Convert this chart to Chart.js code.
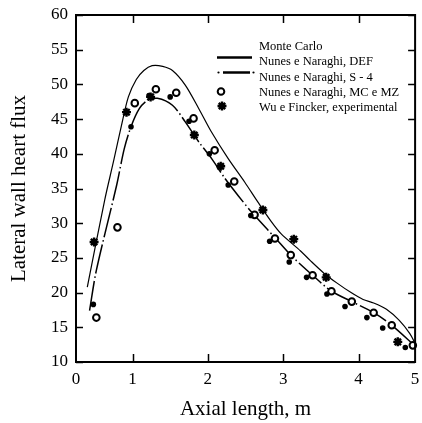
<!DOCTYPE html>
<html>
<head>
<meta charset="utf-8">
<script src="https://cdn.jsdelivr.net/npm/chart.js@4.4.0/dist/chart.umd.min.js"></script>
<style>
  html, body { margin: 0; padding: 0; background: #fff; }
  #wrap { width: 422px; height: 423px; }
</style>
</head>
<body>
<div id="wrap"><canvas id="myChart" width="422" height="423"></canvas></div>
<script>
// series (x = axial length in m, y = lateral wall heat flux)
const monteCarloX = [0.48, 0.98, 1.22, 1.50, 1.75, 2.02, 2.27, 2.57, 2.82, 3.08, 3.31, 3.58, 3.82, 4.11, 4.32, 4.62];
const monteCarloY = [18.3, 43.9, 48.4, 48.2, 44.7, 40.0, 35.5, 31.1, 27.4, 24.4, 22.2, 19.8, 18.0, 16.4, 14.9, 12.1];

const defX = [0.40, 0.63, 0.75, 0.85, 0.945, 1.05, 1.15, 1.26, 1.40, 1.53, 1.70, 1.88, 2.05, 2.27, 2.49, 2.66, 2.83, 2.97, 3.23, 3.36, 3.54, 3.71, 3.90, 4.06, 4.20, 4.37, 4.54, 4.68, 4.75];
const defY = [20.8, 33.3, 39.0, 43.9, 48.2, 50.7, 52.0, 52.7, 52.6, 52.0, 49.9, 46.5, 43.1, 39.3, 35.9, 33.1, 30.4, 28.5, 26.0, 24.6, 22.8, 21.4, 20.0, 19.0, 18.5, 17.6, 16.0, 14.1, 12.7];

const s4X = [0.43, 0.52, 0.79, 0.89, 0.98, 1.09, 1.20, 1.33, 1.53, 1.70, 1.88, 2.05, 2.23, 2.40, 2.58, 2.90, 3.10, 3.39, 3.64, 3.91, 4.20, 4.44, 4.74];
const s4Y = [17.4, 23.2, 35.5, 40.7, 43.9, 46.5, 47.7, 48.0, 47.0, 44.6, 41.7, 39.3, 36.4, 34.0, 31.6, 27.8, 25.4, 22.5, 20.2, 18.7, 17.1, 15.3, 12.4];

const mcmzX = [0.52, 0.80, 1.03, 1.31, 1.58, 1.81, 2.09, 2.35, 2.62, 2.89, 3.10, 3.39, 3.64, 3.91, 4.20, 4.44, 4.72];
const mcmzY = [16.4, 29.4, 47.3, 49.3, 48.8, 45.1, 40.5, 36.0, 31.2, 27.8, 25.4, 22.5, 20.2, 18.7, 17.1, 15.3, 12.4];

const wuX = [0.49, 0.92, 1.24, 1.82, 2.17, 2.73, 3.14, 3.57, 4.52];
const wuY = [27.3, 46.0, 48.2, 42.7, 38.2, 31.9, 27.7, 22.2, 12.9];

// axis ticks as printed on the figure (the end labels sit on the frame edges)
const xTickValues = [0.25, 1, 2, 3, 4, 4.75];
const xTickLabels = ['0', '1', '2', '3', '4', '5'];
const xInnerTicks = [1, 2, 3, 4];

const legendLabels = ['Monte Carlo', 'Nunes e Naraghi, DEF', 'Nunes e Naraghi, S - 4', 'Nunes e Naraghi, MC e MZ', 'Wu e Fincker, experimental'];

const serif = '"Liberation Serif", "Times New Roman", serif';

function pts(xs, ys) {
    return xs.map((x, i) => ({ x: x, y: ys[i] }));
}

// frame with inward ticks on all four sides
const framePlugin = {
    id: 'frame',
    afterDatasetsDraw(chart) {
        const { ctx, chartArea: a, scales } = chart;
        ctx.save();
        ctx.strokeStyle = '#000';
        ctx.lineWidth = 1.5;
        ctx.beginPath();
        xInnerTicks.forEach(v => {
            const px = Math.round(scales.x.getPixelForValue(v)) + 0.5;
            ctx.moveTo(px, a.bottom); ctx.lineTo(px, a.bottom - 8);
            ctx.moveTo(px, a.top); ctx.lineTo(px, a.top + 8);
        });
        scales.y.ticks.forEach(t => {
            const py = Math.round(scales.y.getPixelForValue(t.value)) + 0.5;
            ctx.moveTo(a.left, py); ctx.lineTo(a.left + 7, py);
            ctx.moveTo(a.right, py); ctx.lineTo(a.right - 7, py);
        });
        ctx.stroke();
        ctx.lineWidth = 2;
        ctx.strokeRect(a.left, a.top, a.right - a.left, a.bottom - a.top);
        ctx.restore();
    }
};

// legend drawn inside the plot, styled like the original figure
const legendPlugin = {
    id: 'insideLegend',
    afterDraw(chart) {
        const ctx = chart.ctx;
        ctx.save();
        ctx.fillStyle = '#000';
        ctx.strokeStyle = '#000';
        ctx.font = '12.5px ' + serif;
        ctx.textBaseline = 'middle';
        ctx.textAlign = 'left';
        const ys = [46.5, 62, 77.5, 92.5, 108];
        legendLabels.forEach((t, i) => ctx.fillText(t, 259, ys[i]));

        // solid line
        ctx.lineWidth = 2.5;
        ctx.beginPath(); ctx.moveTo(217, 57.5); ctx.lineTo(252, 57.5); ctx.stroke();
        // dash-dot
        ctx.beginPath(); ctx.moveTo(223, 72.5); ctx.lineTo(250, 72.5); ctx.stroke();
        ctx.beginPath(); ctx.arc(218.5, 72.5, 1.1, 0, Math.PI * 2); ctx.fill();
        ctx.beginPath(); ctx.arc(253.5, 72.5, 1.1, 0, Math.PI * 2); ctx.fill();
        // open circle
        ctx.lineWidth = 2;
        ctx.beginPath(); ctx.arc(221, 91.5, 3.3, 0, Math.PI * 2); ctx.stroke();
        // asterisk
        ctx.lineWidth = 2.4;
        ctx.beginPath();
        for (let k = 0; k < 4; k++) {
            const ang = k * Math.PI / 4;
            const dx = Math.cos(ang) * 4.5, dy = Math.sin(ang) * 4.5;
            ctx.moveTo(222 - dx, 106 - dy); ctx.lineTo(222 + dx, 106 + dy);
        }
        ctx.stroke();
        ctx.restore();
    }
};

const ctx = document.getElementById('myChart').getContext('2d');
const myChart = new Chart(ctx, {
    type: 'scatter',
    data: {
        datasets: [{
            label: legendLabels[0],
            data: pts(monteCarloX, monteCarloY),
            pointStyle: 'circle',
            pointRadius: 2.8,
            backgroundColor: '#000',
            borderWidth: 0,
            clip: false,
            order: 1
        }, {
            label: legendLabels[1],
            data: pts(defX, defY),
            showLine: true,
            borderColor: '#000',
            borderWidth: 1.2,
            pointRadius: 0,
            tension: 0.3,
            clip: false,
            order: 5
        }, {
            label: legendLabels[2],
            data: pts(s4X, s4Y),
            showLine: true,
            borderColor: '#000',
            borderWidth: 1.5,
            borderDash: [30, 3, 1.5, 3],
            pointRadius: 0,
            tension: 0.3,
            clip: false,
            order: 4
        }, {
            label: legendLabels[3],
            data: pts(mcmzX, mcmzY),
            pointStyle: 'circle',
            pointRadius: 3.3,
            borderWidth: 2,
            borderColor: '#000',
            backgroundColor: '#fff',
            clip: false,
            order: 2
        }, {
            label: legendLabels[4],
            data: pts(wuX, wuY),
            pointStyle: 'star',
            pointRadius: 4.5,
            borderWidth: 2.4,
            borderColor: '#000',
            backgroundColor: '#000',
            clip: false,
            order: 3
        }]
    },
    options: {
        responsive: false,
        animation: false,
        layout: { padding: { top: 15, right: 3, left: 0, bottom: 0 } },
        plugins: {
            legend: { display: false },
            tooltip: { enabled: false }
        },
        scales: {
            x: {
                type: 'linear',
                min: 0.25,
                max: 4.75,
                grid: { display: false, drawTicks: false },
                border: { display: false },
                afterBuildTicks: (scale) => {
                    scale.ticks = xTickValues.map(v => ({ value: v }));
                },
                afterFit: (scale) => {
                    scale.height = 61;
                    scale.paddingLeft = 0;
                    scale.paddingRight = 0;
                },
                ticks: {
                    color: '#000',
                    padding: 7,
                    maxRotation: 0,
                    autoSkip: false,
                    font: { family: serif, size: 17 },
                    callback: (v, i) => xTickLabels[i]
                },
                title: {
                    display: true,
                    text: 'Axial length, m',
                    color: '#000',
                    padding: { top: 0, bottom: 1 },
                    font: { family: serif, size: 21 }
                }
            },
            y: {
                min: 10,
                max: 60,
                grid: { display: false, drawTicks: false },
                border: { display: false },
                afterFit: (scale) => {
                    scale.width = 76;
                    scale.paddingTop = 0;
                    scale.paddingBottom = 0;
                },
                ticks: {
                    stepSize: 5,
                    color: '#000',
                    padding: 8,
                    font: { family: serif, size: 17 }
                },
                title: {
                    display: true,
                    text: 'Lateral wall heart flux',
                    color: '#000',
                    padding: { top: 7, bottom: 0 },
                    font: { family: serif, size: 21 }
                }
            }
        }
    },
    plugins: [framePlugin, legendPlugin]
});
</script>
</body>
</html>
